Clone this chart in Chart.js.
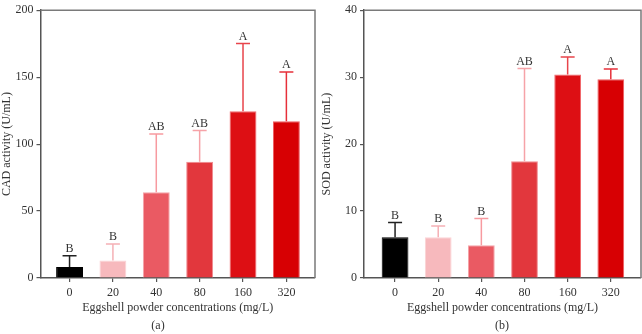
<!DOCTYPE html>
<html>
<head>
<meta charset="utf-8">
<script src="https://cdn.jsdelivr.net/npm/chart.js@4.4.1/dist/chart.umd.min.js"></script>
<style>
  body { margin: 0; background: #fff; width: 642px; height: 334px; overflow: hidden; position: relative; font-family: "Liberation Serif", serif; }
  .panel { position: absolute; top: 0; height: 334px; }
  .tag { position: absolute; top: 318px; font-size: 12px; color: #333; transform: translateX(-50%); }
</style>
</head>
<body>
<div class="panel" style="left:0;width:320px"><canvas id="graphCAD"></canvas></div>
<div class="panel" style="left:320px;width:322px"><canvas id="graphSOD"></canvas></div>
<div class="tag" style="left:158px">(a)</div>
<div class="tag" style="left:502px">(b)</div>
<script>
const concentrations = ["0", "20", "40", "80", "160", "320"];

const cadMoyenne = [8.3, 13, 64, 86.8, 124.6, 117];
const cadEcart = [8.4, 12.3, 43.6, 23.4, 50.6, 36.8];
const cadLettres = ["B", "B", "AB", "AB", "A", "A"];
const cadTicks = [0, 50, 100, 150, 200];

const sodMoyenne = [6.1, 6.1, 4.9, 17.45, 30.4, 29.7];
const sodEcart = [2.2, 1.65, 4.0, 13.85, 2.6, 1.5];
const sodLettres = ["B", "B", "B", "AB", "A", "A"];
const sodTicks = [0, 10, 20, 30, 40];

const couleursBarres = ['#000000', '#f7b9bd', '#ea5a63', '#e2373d', '#dd0f14', '#d70003'];
const couleursBords = ['#000000', '#fbd3d6', '#f4a3a8', '#f08a8f', '#f06a6e', '#ee5c60'];
const couleursErreur = ['#222222', '#f5b0b5', '#f79aa0', '#f6a3a8', '#e8444b', '#e6303a'];

const police = "'Liberation Serif', 'DejaVu Serif', serif";

// barres d'erreur + lettres
const errorBars = {
    id: 'errorBars',
    afterDatasetsDraw(chart) {
        const ctx = chart.ctx;
        const yScale = chart.scales.y;
        const meta = chart.getDatasetMeta(0);
        const ds = chart.data.datasets[0];
        meta.data.forEach((bar, i) => {
            const v = ds.data[i].y;
            const yTop = yScale.getPixelForValue(v + ds.ecart[i]);
            const yBar = yScale.getPixelForValue(v);
            ctx.save();
            ctx.strokeStyle = couleursErreur[i];
            ctx.lineWidth = 1.5;
            ctx.beginPath();
            ctx.moveTo(bar.x, yBar);
            ctx.lineTo(bar.x, yTop);
            ctx.moveTo(bar.x - 7, yTop);
            ctx.lineTo(bar.x + 7, yTop);
            ctx.stroke();
            ctx.fillStyle = '#333';
            ctx.font = "12px " + police;
            ctx.textAlign = 'center';
            ctx.textBaseline = 'bottom';
            ctx.fillText(ds.lettres[i], bar.x, yTop - 1);
            ctx.restore();
        });
    }
};

// cadre haut + droite
const cadre = {
    id: 'cadre',
    beforeDatasetsDraw(chart) {
        const a = chart.chartArea;
        const ctx = chart.ctx;
        ctx.save();
        ctx.strokeStyle = '#7a7a7a';
        ctx.lineWidth = 1.5;
        ctx.beginPath();
        ctx.moveTo(a.left, a.top);
        ctx.lineTo(a.right, a.top);
        ctx.lineTo(a.right, a.bottom);
        ctx.stroke();
        ctx.restore();
    }
};

function creerGraph(id, moyennes, ecarts, lettres, ticks, titreY, largeurY, droite, xmin, xmax) {
    const ctx = document.getElementById(id).getContext('2d');
    return new Chart(ctx, {
        type: 'bar',
        data: {
            datasets: [{
                data: moyennes.map((m, i) => ({ x: i, y: m })),
                ecart: ecarts,
                lettres: lettres,
                backgroundColor: couleursBarres,
                borderColor: couleursBords,
                borderWidth: 1,
                barPercentage: 0.62,
                categoryPercentage: 1
            }]
        },
        options: {
            responsive: true,
            maintainAspectRatio: false,
            animation: false,
            layout: { padding: { top: 3, right: droite, bottom: 14, left: 0 } },
            plugins: { legend: { display: false }, tooltip: { enabled: false } },
            scales: {
                x: {
                    type: 'linear',
                    offset: false,
                    min: xmin,
                    max: xmax,
                    afterBuildTicks: s => { s.ticks = concentrations.map((c, i) => ({ value: i })); },
                    afterFit: s => { s.height = 42; },
                    grid: { drawOnChartArea: false, offset: false, tickLength: 4, color: '#555', lineWidth: 1.2 },
                    border: { color: '#555', width: 1.5 },
                    ticks: {
                        callback: v => concentrations[v],
                        autoSkip: false,
                        maxRotation: 0,
                        padding: 4,
                        color: '#333',
                        font: { family: police, size: 12 }
                    },
                    title: {
                        display: true,
                        text: 'Eggshell powder concentrations (mg/L)',
                        color: '#333',
                        font: { family: police, size: 12 },
                        padding: { top: 0, bottom: 5 }
                    }
                },
                y: {
                    min: ticks[0],
                    max: ticks[ticks.length - 1],
                    afterBuildTicks: s => { s.ticks = ticks.map(t => ({ value: t })); },
                    afterFit: s => { s.width = largeurY; },
                    grid: { drawOnChartArea: false, tickLength: 4, color: '#555', lineWidth: 1.2 },
                    border: { color: '#555', width: 1.5 },
                    ticks: { padding: 3, color: '#333', font: { family: police, size: 12 } },
                    title: {
                        display: true,
                        text: titreY,
                        color: '#333',
                        font: { family: police, size: 12 },
                        padding: 0
                    }
                }
            }
        },
        plugins: [cadre, errorBars]
    });
}

creerGraph('graphCAD', cadMoyenne, cadEcart, cadLettres, cadTicks, 'CAD activity (U/mL)', 40.5, 5, -0.67, 5.66);
creerGraph('graphSOD', sodMoyenne, sodEcart, sodLettres, sodTicks, 'SOD activity (U/mL)', 44, 1, -0.72, 5.7);
</script>
</body>
</html>
